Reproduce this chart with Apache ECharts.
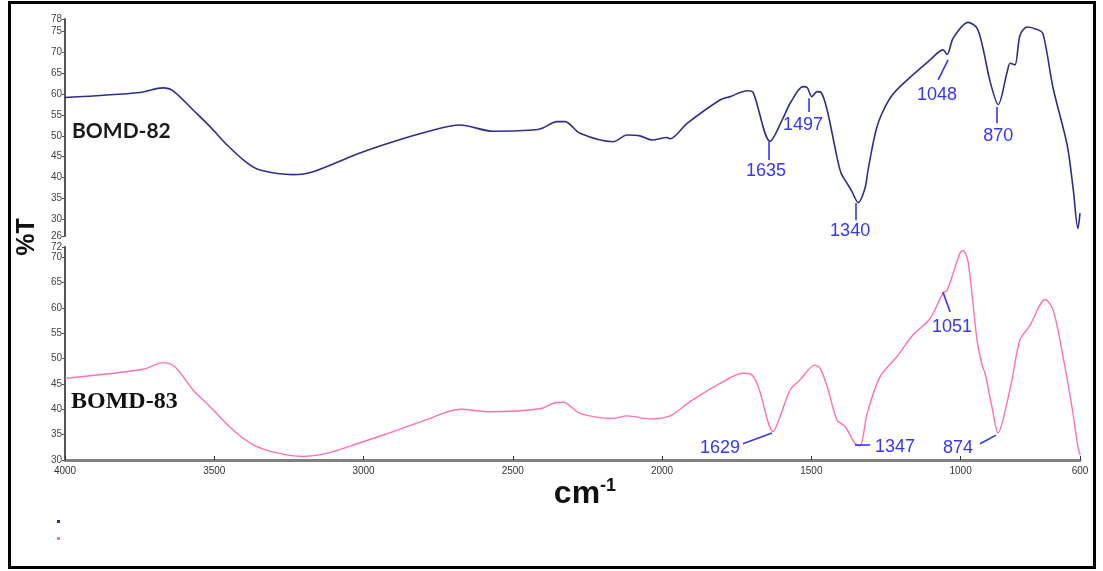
<!DOCTYPE html>
<html>
<head>
<meta charset="utf-8">
<script src="https://cdn.jsdelivr.net/npm/echarts@6/dist/echarts.min.js"></script>
<style>
html,body{margin:0;padding:0;background:#fff;}
#c{width:1103px;height:571px;}
</style>
</head>
<body>
<div id="c"></div>
<script>
// ---- data ----
const seriesNames = ['BOMD-82', 'BOMD-83'];
const wn82 = [4000,3749,3672,3638,3571,3514,3457,3390,3347,3236,3169,3012,2901,2787,2677,2566,2432,2399,2352,2325,2275,2164,2117,2074,2034,1983,1973,1916,1806,1772,1715,1695,1638,1595,1571,1528,1514,1498,1481,1467,1447,1414,1400,1380,1365,1343,1320,1310,1280,1240,1203,1102,1059,1045,1025,975,945,925,901,874,844,834,818,801,777,744,724,690,643,623,607,600];
const t82  = [59.2,60.4,61.5,60.8,56.2,52.2,47.8,43.5,41.8,40.7,41.4,45.9,48.6,51.0,52.6,51.1,51.4,51.9,53.4,53.4,50.6,48.6,50.2,50.0,49.0,49.6,49.3,53.0,58.6,59.4,60.8,60.4,48.7,54.2,57.8,61.8,61.6,59.4,60.6,60.4,56.2,44.9,41.0,38.6,36.8,34.0,37.5,41.8,52.2,58.6,61.8,68.2,70.6,69.5,73.4,77.2,75.8,71.0,63.0,57.5,65.3,67.4,67.0,74.1,76.1,75.5,74.5,61.4,47.8,37.4,27.8,31.5];
const wn83 = [4000,3739,3672,3632,3571,3514,3437,3370,3290,3203,3122,3012,2901,2787,2677,2576,2409,2359,2332,2275,2164,2117,2040,1973,1906,1806,1729,1705,1678,1628,1605,1571,1538,1488,1471,1447,1414,1387,1354,1337,1313,1270,1213,1159,1102,1059,1045,1002,992,975,945,928,918,895,874,858,828,801,767,734,717,690,657,627,607,600];
const t83  = [46.1,47.9,49.2,48.4,43.8,40.5,35.9,33.0,31.4,30.7,31.3,33.4,35.6,38.0,40.0,39.5,40.1,41.3,41.4,39.2,38.2,38.7,38.1,38.7,41.5,45.1,47.1,47.0,44.5,35.6,38.5,43.8,45.8,48.7,48.1,44.5,37.9,36.6,33.3,32.8,39.2,46.4,50.4,54.7,57.9,62.9,63.5,70.8,71.3,69.1,53.7,48.7,47.1,40.5,35.3,37.9,45.8,53.7,56.6,60.6,61.6,59.6,50.4,40.5,32.6,31.0];
const peaks82 = ['1635','1497','1340','1048','870'];
const peaks83 = ['1629','1347','1051','874'];
const xTicks = [4000,3500,3000,2500,2000,1500,1000,600];
const yTicks82 = [26,30,35,40,45,50,55,60,65,70,75,78];
const yTicks83 = [30,35,40,45,50,55,60,65,70,72];

// ---- annotation placement (data coordinates: leader line start/end, text centre) ----
const layout82 = [
  {l:[[1642,48.5],[1642,44.2]], t:[1652,41.6]},
  {l:[[1508,59.0],[1508,55.7]], t:[1528,52.5]},
  {l:[[1350,33.9],[1350,29.8]], t:[1370,27.3]},
  {l:[[1042,68.2],[1075,63.4]], t:[1079,59.8]},
  {l:[[878,56.9],[878,53.0]],   t:[874,49.9]}
];
const layout83 = [
  {l:[[1729,33.2],[1632,35.3]], t:[1806,32.4]},
  {l:[[1354,33.1],[1303,33.1]], t:[1220,32.6]},
  {l:[[1059,63.1],[1035,59.2]], t:[1029,56.2]},
  {l:[[935,33.2],[881,34.9]],   t:[1009,32.4]}
];

const C82 = '#2e2e8e', C83 = '#ff6fb6', CA = '#3535ff';

function pairs(xs, ys){ return xs.map((x,i)=>[x, ys[i]]); }
function marks(labels, lay){
  return {
    markLine: {
      silent: true, symbol: ['none','none'], animation: false,
      label: {show:false},
      lineStyle: {color: CA, width: 1.6, type: 'solid'},
      emphasis: {disabled: true},
      data: lay.map(a => [{coord: a.l[0]}, {coord: a.l[1]}])
    },
    markPoint: {
      silent: true, animation: false, symbol: 'rect', symbolSize: [1,1],
      itemStyle: {color: 'rgba(0,0,0,0)'},
      label: {show: true, position: 'inside', formatter: '{b}', color: CA,
              fontFamily: 'Liberation Sans, Arial, sans-serif', fontSize: 18},
      data: lay.map((a,i) => ({name: labels[i], coord: a.t}))
    }
  };
}

const xBase = {type:'value', min:600, max:4000, inverse:true};
const yLabel = {fontSize:10, color:'#444', margin:3, fontFamily:'Liberation Sans, Arial, sans-serif'};

const chart = echarts.init(document.getElementById('c'), null, {renderer:'canvas'});
chart.setOption({
  animation: false,
  backgroundColor: '#fff',
  grid: [
    {left:65, top:19, width:1015, height:217},
    {left:65, top:247, width:1015, height:213}
  ],
  xAxis: [
    Object.assign({gridIndex:0, show:false}, xBase),
    Object.assign({gridIndex:1,
      axisLine:{show:true, lineStyle:{color:'#808080', width:3}},
      axisTick:{show:true, inside:true, length:4, lineStyle:{color:'#333'}, customValues:xTicks},
      axisLabel:{fontSize:10, color:'#333', margin:6, customValues:xTicks, formatter: v => String(v),
                 fontFamily:'Liberation Sans, Arial, sans-serif'},
      splitLine:{show:false}}, xBase)
  ],
  yAxis: [
    {type:'value', gridIndex:0, min:26, max:78,
     axisLine:{show:true, lineStyle:{color:'#555', width:2}},
     axisTick:{show:true, length:3, lineStyle:{color:'#555'}, customValues:yTicks82},
     axisLabel:Object.assign({customValues:yTicks82}, yLabel),
     splitLine:{show:false}},
    {type:'value', gridIndex:1, min:30, max:72,
     axisLine:{show:true, lineStyle:{color:'#555', width:2}},
     axisTick:{show:true, length:3, lineStyle:{color:'#555'}, customValues:yTicks83},
     axisLabel:Object.assign({customValues:yTicks83}, yLabel),
     splitLine:{show:false}}
  ],
  legend: {
    orient:'vertical', left:52, top:515, itemWidth:3, itemHeight:3, itemGap:14,
    icon:'rect', formatter: () => '', textStyle:{fontSize:1},
    data: seriesNames
  },
  series: [
    Object.assign({name:seriesNames[0], type:'line', xAxisIndex:0, yAxisIndex:0,
      data: pairs(wn82, t82), showSymbol:false, smooth:0.3,
      lineStyle:{color:C82, width:1.6}, itemStyle:{color:C82}}, marks(peaks82, layout82)),
    Object.assign({name:seriesNames[1], type:'line', xAxisIndex:1, yAxisIndex:1,
      data: pairs(wn83, t83), showSymbol:false, smooth:0.3,
      lineStyle:{color:C83, width:1.4}, itemStyle:{color:C83}}, marks(peaks83, layout83))
  ],
  graphic: [
    {type:'rect', silent:true, shape:{x:9.5, y:2.5, width:1085, height:565},
     style:{fill:'none', stroke:'#000', lineWidth:3}},
    {type:'text', silent:true, x:72, y:131,
     style:{text:seriesNames[0], font:'bold 21px Lato, "Liberation Sans", sans-serif', fill:'#1a1a1a',
            textAlign:'left', textVerticalAlign:'middle'}},
    {type:'text', silent:true, x:71, y:402,
     style:{text:seriesNames[1], font:'bold 24px "Liberation Serif", "Times New Roman", serif', fill:'#111',
            textAlign:'left', textVerticalAlign:'middle'}},
    {type:'text', silent:true, x:27, y:237, rotation:Math.PI/2,
     style:{text:'%T', font:'bold 25px "Liberation Sans", Arial, sans-serif', fill:'#111',
            textAlign:'center', textVerticalAlign:'middle'}},
    {type:'text', silent:true, x:585, y:494,
     style:{text:'{a|cm}{b|-1}', textAlign:'center', textVerticalAlign:'middle', fill:'#111',
            rich:{a:{font:'bold 32px "Liberation Sans", Arial, sans-serif', fill:'#111', lineHeight:34},
                  b:{font:'bold 18px "Liberation Sans", Arial, sans-serif', fill:'#111', verticalAlign:'top', lineHeight:18}}}}
  ]
});
</script>
</body>
</html>
